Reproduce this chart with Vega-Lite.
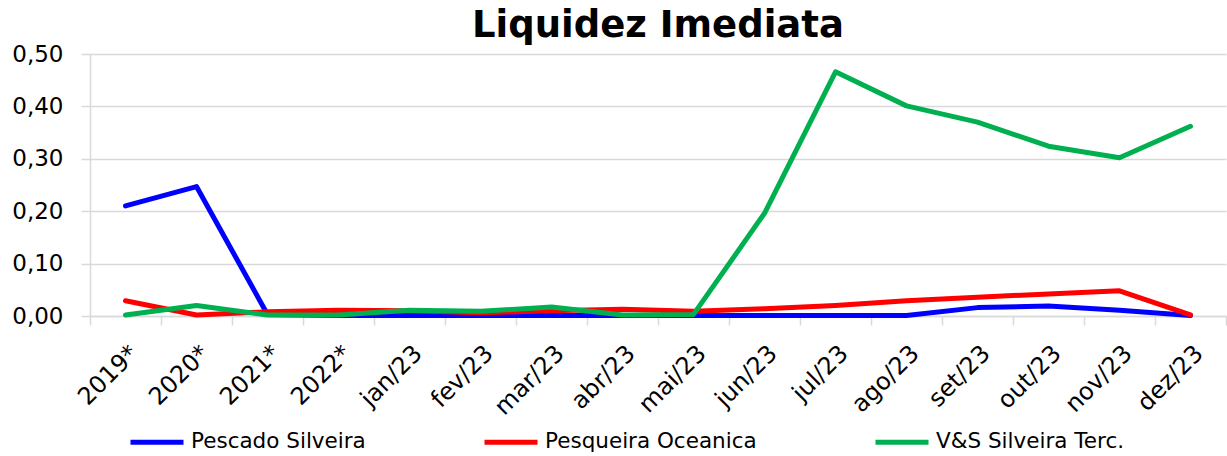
{
  "$schema": "https://vega.github.io/schema/vega-lite/v6.json",
  "width": 1136,
  "height": 262,
  "autosize": {"type": "none"},
  "padding": {"left": 90, "top": 54, "right": 1, "bottom": 140},
  "background": "white",
  "config": {
    "locale": {"number": {"decimal": ",", "thousands": ".", "grouping": [3], "currency": ["R$", ""]}},
    "view": {"stroke": null},
    "font": "DejaVu Sans"
  },
  "title": {"text": "Liquidez Imediata", "fontSize": 37, "fontWeight": "bold", "font": "DejaVu Sans", "color": "#000000", "anchor": "middle", "baseline": "alphabetic", "offset": -31},
  "data": {"values": [
    {"m": "2019*", "s": "Pescado Silveira", "v": 0.21},
    {"m": "2020*", "s": "Pescado Silveira", "v": 0.247},
    {"m": "2021*", "s": "Pescado Silveira", "v": 0.003},
    {"m": "2022*", "s": "Pescado Silveira", "v": 0.001},
    {"m": "jan/23", "s": "Pescado Silveira", "v": 0.001},
    {"m": "fev/23", "s": "Pescado Silveira", "v": 0.001},
    {"m": "mar/23", "s": "Pescado Silveira", "v": 0.001},
    {"m": "abr/23", "s": "Pescado Silveira", "v": 0.001},
    {"m": "mai/23", "s": "Pescado Silveira", "v": 0.001},
    {"m": "jun/23", "s": "Pescado Silveira", "v": 0.001},
    {"m": "jul/23", "s": "Pescado Silveira", "v": 0.001},
    {"m": "ago/23", "s": "Pescado Silveira", "v": 0.001},
    {"m": "set/23", "s": "Pescado Silveira", "v": 0.016},
    {"m": "out/23", "s": "Pescado Silveira", "v": 0.019},
    {"m": "nov/23", "s": "Pescado Silveira", "v": 0.011},
    {"m": "dez/23", "s": "Pescado Silveira", "v": 0.001},
    {"m": "2019*", "s": "Pesqueira Oceanica", "v": 0.029},
    {"m": "2020*", "s": "Pesqueira Oceanica", "v": 0.002},
    {"m": "2021*", "s": "Pesqueira Oceanica", "v": 0.008},
    {"m": "2022*", "s": "Pesqueira Oceanica", "v": 0.011},
    {"m": "jan/23", "s": "Pesqueira Oceanica", "v": 0.01},
    {"m": "fev/23", "s": "Pesqueira Oceanica", "v": 0.006},
    {"m": "mar/23", "s": "Pesqueira Oceanica", "v": 0.01},
    {"m": "abr/23", "s": "Pesqueira Oceanica", "v": 0.013},
    {"m": "mai/23", "s": "Pesqueira Oceanica", "v": 0.009},
    {"m": "jun/23", "s": "Pesqueira Oceanica", "v": 0.014},
    {"m": "jul/23", "s": "Pesqueira Oceanica", "v": 0.02},
    {"m": "ago/23", "s": "Pesqueira Oceanica", "v": 0.029},
    {"m": "set/23", "s": "Pesqueira Oceanica", "v": 0.036},
    {"m": "out/23", "s": "Pesqueira Oceanica", "v": 0.042},
    {"m": "nov/23", "s": "Pesqueira Oceanica", "v": 0.048},
    {"m": "dez/23", "s": "Pesqueira Oceanica", "v": 0.002},
    {"m": "2019*", "s": "V&S Silveira Terc.", "v": 0.002},
    {"m": "2020*", "s": "V&S Silveira Terc.", "v": 0.02},
    {"m": "2021*", "s": "V&S Silveira Terc.", "v": 0.002},
    {"m": "2022*", "s": "V&S Silveira Terc.", "v": 0.002},
    {"m": "jan/23", "s": "V&S Silveira Terc.", "v": 0.011},
    {"m": "fev/23", "s": "V&S Silveira Terc.", "v": 0.009},
    {"m": "mar/23", "s": "V&S Silveira Terc.", "v": 0.017},
    {"m": "abr/23", "s": "V&S Silveira Terc.", "v": 0.002},
    {"m": "mai/23", "s": "V&S Silveira Terc.", "v": 0.003},
    {"m": "jun/23", "s": "V&S Silveira Terc.", "v": 0.196},
    {"m": "jul/23", "s": "V&S Silveira Terc.", "v": 0.466},
    {"m": "ago/23", "s": "V&S Silveira Terc.", "v": 0.401},
    {"m": "set/23", "s": "V&S Silveira Terc.", "v": 0.37},
    {"m": "out/23", "s": "V&S Silveira Terc.", "v": 0.324},
    {"m": "nov/23", "s": "V&S Silveira Terc.", "v": 0.302},
    {"m": "dez/23", "s": "V&S Silveira Terc.", "v": 0.362}
  ]},
  "mark": {"type": "line", "strokeWidth": 5, "strokeCap": "round", "strokeJoin": "round"},
  "encoding": {
    "x": {
      "field": "m", "type": "ordinal", "sort": null,
      "scale": {"type": "band", "paddingInner": 0, "paddingOuter": 0},
      "axis": {
        "title": null, "labelAngle": -45, "labelFontSize": 24, "labelColor": "#000000", "labelFont": "DejaVu Sans",
        "domainColor": "#d9d9d9", "domainWidth": 1.5, "tickColor": "#d9d9d9", "tickWidth": 1.5, "tickSize": 9,
        "tickBand": "extent", "labelPadding": 16, "grid": false
      }
    },
    "y": {
      "field": "v", "type": "quantitative",
      "scale": {"domain": [0, 0.5]},
      "axis": {
        "title": null, "values": [0, 0.1, 0.2, 0.3, 0.4, 0.5], "format": ".2f",
        "labelFontSize": 23, "labelColor": "#000000", "labelFont": "DejaVu Sans", "labelPadding": 18,
        "ticks": true, "tickSize": 9, "tickColor": "#d9d9d9", "tickWidth": 1.5,
        "domain": true, "domainColor": "#d9d9d9", "domainWidth": 1.5,
        "gridColor": "#d9d9d9", "gridWidth": 1.5
      }
    },
    "color": {
      "field": "s", "type": "nominal",
      "scale": {"domain": ["Pescado Silveira", "Pesqueira Oceanica", "V&S Silveira Terc."], "range": ["#0000FF", "#FF0000", "#00B050"]},
      "legend": {
        "title": null, "orient": "none", "legendX": 38, "legendY": 359, "direction": "horizontal", "symbolType": "stroke",
        "symbolSize": 2809, "symbolStrokeWidth": 5, "labelFontSize": 21.5, "labelFont": "DejaVu Sans", "labelColor": "#000000",
        "columnPadding": 108, "labelOffset": 5, "labelLimit": 400
      }
    }
  }
}
